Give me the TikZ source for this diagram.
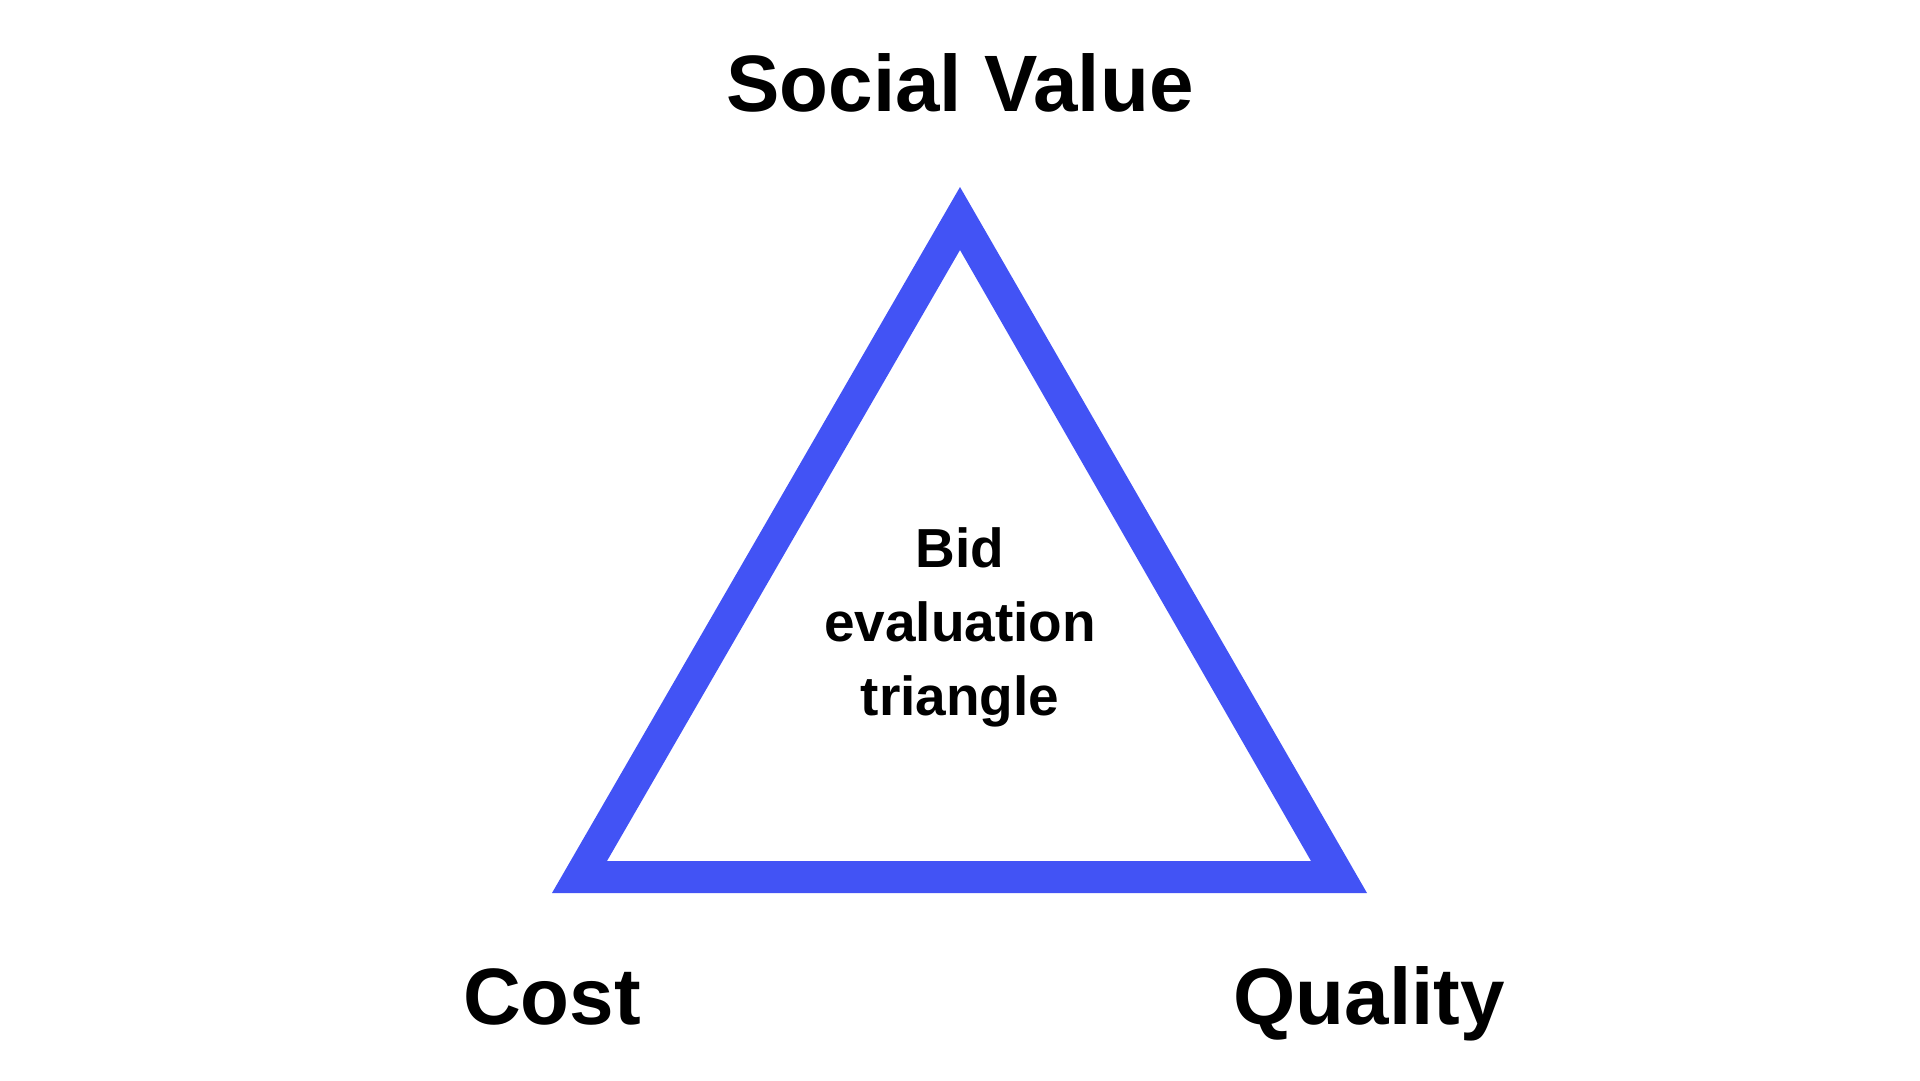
\documentclass[tikz,border=0pt]{standalone}
\usepackage{fontspec}
\setmainfont{Liberation Sans}
\definecolor{triblue}{RGB}{66,83,245}
\begin{document}
\begin{tikzpicture}[x=1pt,y=-1pt,
  corner/.style={font=\bfseries\fontsize{80}{96}\selectfont, inner sep=0pt, anchor=base},
  centre/.style={font=\bfseries\fontsize{55}{74}\selectfont, inner sep=0pt, anchor=north, align=center}]
\useasboundingbox (0,0) rectangle (1920,1080);
% outer vertices
\coordinate (oA) at (960,187);
\coordinate (oB) at (552,893);
\coordinate (oC) at (1367,893);
% inner vertices
\coordinate (iA) at (960,250);
\coordinate (iB) at (607,861);
\coordinate (iC) at (1311,861);
\fill[triblue, even odd rule] (oA) -- (oB) -- (oC) -- cycle (iA) -- (iB) -- (iC) -- cycle;
\node[corner] (social) at (960,111) {Social Value};
\node[corner] (cost) at (552,1024) {Cost};
\node[corner] (quality) at (1369,1024) {Quality};
\node[centre] (bid) at (960,527) {Bid\\evaluation\\triangle};
\end{tikzpicture}
\end{document}
